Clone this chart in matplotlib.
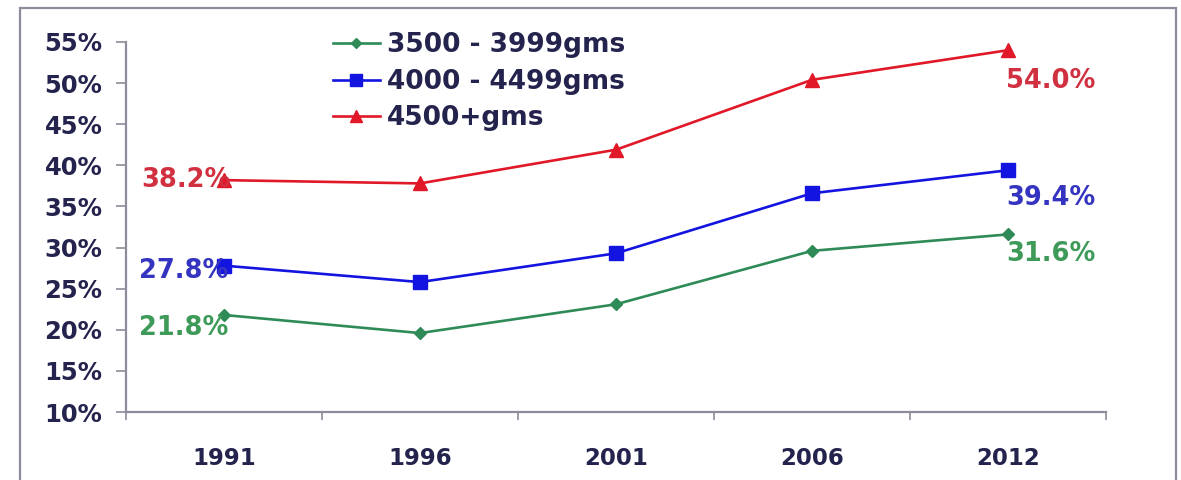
import matplotlib
matplotlib.use("Agg")
import matplotlib.pyplot as plt
from matplotlib.patches import Rectangle
from matplotlib.ticker import FixedLocator, PercentFormatter

# Birth-weight share by census year
years = ["1991", "1996", "2001", "2006", "2012"]
series_names = ["3500 - 3999gms", "4000 - 4499gms", "4500+gms"]
share_3500 = [21.8, 19.6, 23.1, 29.6, 31.6]
share_4000 = [27.8, 25.8, 29.3, 36.6, 39.4]
share_4500 = [38.2, 37.8, 41.9, 50.4, 54.0]
y_ticks = [10, 15, 20, 25, 30, 35, 40, 45, 50, 55]

plt.rcParams["font.family"] = ["DejaVu Sans"]
plt.rcParams["font.weight"] = "bold"

navy = "#23234d"
frame_gray = "#8c8c9c"
line_colors = ["#2e8b57", "#1414e0", "#e01828"]
text_colors = ["#3e9a58", "#3434c0", "#d03040"]
markers = ["D", "s", "^"]
msizes = [6, 10, 10]

fig = plt.figure(figsize=(11.81, 4.80), dpi=100)
fig.patch.set_facecolor("white")

# outer frame
fig.patches.append(Rectangle((20 / 1181, -0.05), 1156 / 1181, 1 - 8 / 480 + 0.05,
                             transform=fig.transFigure, fill=False,
                             edgecolor=frame_gray, linewidth=1.6, zorder=0))

ax = fig.add_axes([126 / 1181, 1 - 412 / 480, (1106 - 126) / 1181, (412 - 42) / 480])
x = list(range(len(years)))
series = [share_3500, share_4000, share_4500]
for vals, name, c, m, ms in zip(series, series_names, line_colors, markers, msizes):
    ax.plot(x, vals, color=c, lw=1.9, marker=m, ms=ms, mec=c, mfc=c, label=name)

ax.set_xlim(-0.5, len(years) - 0.5)
ax.set_ylim(10, 55)
ax.yaxis.set_major_locator(FixedLocator(y_ticks))
ax.yaxis.set_major_formatter(PercentFormatter(decimals=0))
ax.set_xticks(x)
ax.set_xticklabels(years)
ax.xaxis.set_minor_locator(FixedLocator([i - 0.5 for i in range(len(years) + 1)]))
ax.tick_params(axis="x", which="major", length=0, pad=25, labelsize=16.5, labelcolor=navy)
ax.tick_params(axis="x", which="minor", length=6, width=1.2, color=frame_gray, direction="out")
ax.tick_params(axis="y", length=7, width=1.2, color=frame_gray, pad=10, labelsize=17.5, labelcolor=navy)
for sp in ["top", "right"]:
    ax.spines[sp].set_visible(False)
for sp in ["left", "bottom"]:
    ax.spines[sp].set_color(frame_gray)
    ax.spines[sp].set_linewidth(1.6)

# value labels at the first and last year
fs = 18.5
first_offsets = [(4, -13), (4, -5), (7, 0)]
last_offsets = [(-2, -20), (-2, -28), (-2, -31)]
for vals, tc, (fx, fy), (lx, ly) in zip(series, text_colors, first_offsets, last_offsets):
    ax.annotate(f"{vals[0]:.1f}%", (0, vals[0]), xytext=(fx, fy), textcoords="offset pixels",
                ha="right", va="center", color=tc, fontsize=fs, fontweight="bold")
    ax.annotate(f"{vals[-1]:.1f}%", (x[-1], vals[-1]), xytext=(lx, ly), textcoords="offset pixels",
                ha="left", va="center", color=tc, fontsize=fs, fontweight="bold")

leg = ax.legend(loc="upper left", bbox_to_anchor=(0.2, 1.055), frameon=False,
                fontsize=19, handlelength=1.8, handletextpad=0.25, labelspacing=0.4,
                borderaxespad=0, markerscale=0.85)
for t in leg.get_texts():
    t.set_color(navy)
    t.set_fontweight("bold")

fig.savefig("out.png", dpi=100, facecolor="white")
